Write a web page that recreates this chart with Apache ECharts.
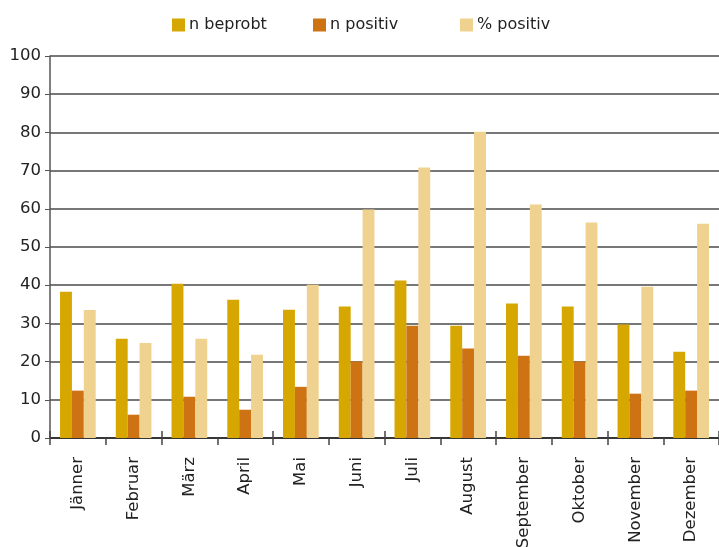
<!DOCTYPE html>
<html><head><meta charset="utf-8">
<script src="https://cdn.jsdelivr.net/npm/echarts@6/dist/echarts.min.js"></script>
<style>html,body{margin:0;padding:0;background:#fff}#c{width:719px;height:547px}</style>
</head><body><div id="c"></div>
<script>
const months = ['Jänner','Februar','März','April','Mai','Juni','Juli','August','September','Oktober','November','Dezember'];
const nBeprobt = [38.3, 26.0, 40.4, 36.2, 33.6, 34.4, 41.2, 29.4, 35.2, 34.4, 29.7, 22.6];
const nPositiv = [12.4, 6.1, 10.8, 7.4, 13.4, 20.0, 29.4, 23.4, 21.5, 20.0, 11.6, 12.4];
const pctPositiv = [33.5, 24.9, 26.0, 21.8, 40.1, 59.8, 70.8, 80.2, 61.1, 56.4, 39.6, 56.1];
const yTicks = [0,10,20,30,40,50,60,70,80,90,100];

const font = 'DejaVu Sans';
const txt = '#222';
const chart = echarts.init(document.getElementById('c'));
const legendCommon = {top: 12, itemWidth: 13, itemHeight: 13, icon: 'rect', itemGap: 4,
  textStyle: {fontFamily: font, fontSize: 16, color: txt, padding:[0,0,0,-1]}};
chart.setOption({
  animation: false,
  legend: [
    Object.assign({left: 167, data: ['n beprobt']}, legendCommon),
    Object.assign({left: 308, data: ['n positiv']}, legendCommon),
    Object.assign({left: 455, data: ['% positiv']}, legendCommon)
  ],
  grid: {left: 50, right: 0, top: 56, bottom: 109, containLabel: false, outerBoundsMode: 'none'},
  xAxis: [{
    type: 'category', data: months,
    axisLine: {lineStyle: {color: '#222', width: 1.5}},
    axisTick: {show: true, length: 7, lineStyle: {color: '#444', width: 1.5}},
    axisLabel: {rotate: 90, interval: 0, margin: 19, fontFamily: font, fontSize: 16.5, color: txt}
  },{
    type: 'category', data: months, position: 'bottom',
    axisLine: {show: false},
    axisTick: {show: true, inside: true, length: 7, lineStyle: {color: '#444', width: 1.5}},
    axisLabel: {show: false}
  }],
  yAxis: {
    type: 'value', min: 0, max: 100, interval: 10,
    axisLine: {show: true, lineStyle: {color: '#555', width: 1.5}},
    axisTick: {show: true, length: 5, lineStyle: {color: '#555'}},
    axisLabel: {margin: 9, fontFamily: font, fontSize: 16.5, color: txt,
      formatter: v => yTicks.includes(v) ? String(v) : ''},
    splitLine: {show: true, lineStyle: {color: '#4a4a4a', width: 1.5}}
  },
  series: [
    {name: 'n beprobt', type: 'bar', data: nBeprobt, barGap: '0%', barCategoryGap: '36%', itemStyle: {color: '#D6A700'}},
    {name: 'n positiv', type: 'bar', data: nPositiv, barGap: '0%', barCategoryGap: '36%', itemStyle: {color: '#CD7314'}},
    {name: '% positiv', type: 'bar', data: pctPositiv, barGap: '0%', barCategoryGap: '36%', itemStyle: {color: '#EFD28F'}}
  ]
});
</script></body></html>
